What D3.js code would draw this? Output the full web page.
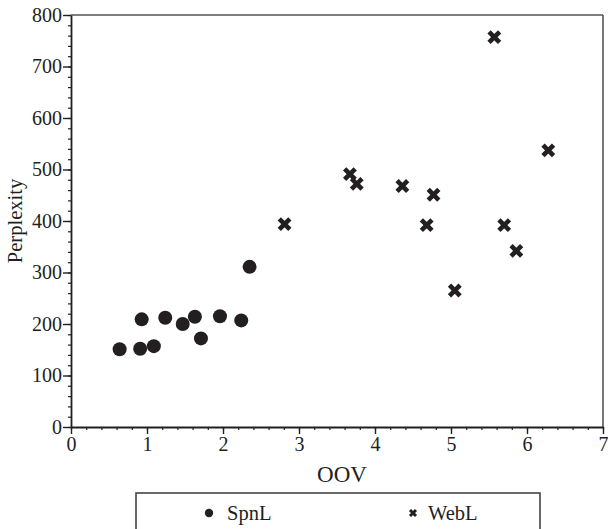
<!DOCTYPE html>
<html>
<head>
<meta charset="utf-8">
<script src="https://cdn.jsdelivr.net/npm/d3@7"></script>
<style>
  html, body { margin: 0; padding: 0; background: #fff; }
  svg { display: block; }
  text { font-family: "Liberation Serif", "Times New Roman", serif; fill: #231f20; }
</style>
</head>
<body>
<svg id="chart" width="608" height="529"></svg>
<script>
// ---- data ----
const spnlOOV = [0.64, 0.91, 0.93, 1.09, 1.24, 1.47, 1.63, 1.71, 1.96, 2.24, 2.35];
const spnlPerplexity = [151, 152, 209, 157, 212, 200, 214, 172, 215, 207, 311];
const weblOOV = [2.81, 3.67, 3.76, 4.36, 4.68, 4.77, 5.05, 5.57, 5.70, 5.86, 6.28];
const weblPerplexity = [394, 491, 472, 468, 392, 451, 265, 757, 392, 342, 537];
const xTicks = [0, 1, 2, 3, 4, 5, 6, 7];
const yTicks = [0, 100, 200, 300, 400, 500, 600, 700, 800];
const seriesNames = ["SpnL", "WebL"];

const ink = "#231f20";
const svg = d3.select("#chart");
const x = d3.scaleLinear().domain([0, 7]).range([71, 603]);
const y = d3.scaleLinear().domain([0, 800]).range([427, 15]);

// frame (top & right)
svg.append("line").attr("x1", x(0)).attr("x2", x(7)).attr("y1", y(800)).attr("y2", y(800))
  .attr("stroke", "#555").attr("stroke-width", 1.6);
svg.append("line").attr("x1", x(7)).attr("x2", x(7)).attr("y1", y(800)).attr("y2", y(0))
  .attr("stroke", "#555").attr("stroke-width", 1.6);

// minor ticks
const xMinor = d3.range(0, 7.0001, 0.2);
const yMinor = d3.range(0, 800.001, 20);
svg.append("g").attr("transform", `translate(0,${y(0)})`)
  .call(d3.axisBottom(x).tickValues(xMinor).tickSize(3).tickFormat(""))
  .call(g => g.select(".domain").remove())
  .call(g => g.selectAll("line").attr("stroke", ink).attr("stroke-width", 1.2));
svg.append("g").attr("transform", `translate(${x(0)},0)`)
  .call(d3.axisLeft(y).tickValues(yMinor).tickSize(3).tickFormat(""))
  .call(g => g.select(".domain").remove())
  .call(g => g.selectAll("line").attr("stroke", ink).attr("stroke-width", 1.2));

// major axes
const xAxis = svg.append("g").attr("transform", `translate(0,${y(0)})`)
  .call(d3.axisBottom(x).tickValues(xTicks).tickSize(7).tickSizeOuter(0).tickPadding(3).tickFormat(d3.format("d")));
const yAxis = svg.append("g").attr("transform", `translate(${x(0)},0)`)
  .call(d3.axisLeft(y).tickValues(yTicks).tickSize(8).tickSizeOuter(0).tickPadding(1).tickFormat(d3.format("d")));
[xAxis, yAxis].forEach(g => {
  g.select(".domain").attr("stroke", ink).attr("stroke-width", 1.8);
  g.selectAll(".tick line").attr("stroke", ink).attr("stroke-width", 1.4);
  g.selectAll(".tick text").attr("font-size", 20).attr("font-family", "Liberation Serif, serif").attr("fill", ink);
});

// axis titles
svg.append("text").attr("x", 342).attr("y", 482).attr("text-anchor", "middle")
  .attr("font-size", 23).text("OOV");
svg.append("text").attr("transform", "translate(22,221) rotate(-90)").attr("text-anchor", "middle")
  .attr("font-size", 20.5).text("Perplexity");

// marks
const crossPath = s => `M${-s},${-s}L${s},${s}M${-s},${s}L${s},${-s}`;
svg.append("g").selectAll("circle").data(spnlOOV.map((v, i) => [v, spnlPerplexity[i]]))
  .join("circle").attr("cx", d => x(d[0])).attr("cy", d => y(d[1])).attr("r", 7).attr("fill", ink);
svg.append("g").selectAll("path").data(weblOOV.map((v, i) => [v, weblPerplexity[i]]))
  .join("path").attr("transform", d => `translate(${x(d[0])},${y(d[1])})`)
  .attr("d", crossPath(5.3)).attr("stroke", ink).attr("stroke-width", 4.6).attr("fill", "none");

// legend
const lg = svg.append("g");
lg.append("rect").attr("x", 136).attr("y", 493).attr("width", 404).attr("height", 60)
  .attr("fill", "none").attr("stroke", "#444").attr("stroke-width", 1.6);
lg.append("circle").attr("cx", 209).attr("cy", 513).attr("r", 4.2).attr("fill", ink);
lg.append("text").attr("x", 227).attr("y", 520).attr("font-size", 20.5).text(seriesNames[0]);
lg.append("path").attr("transform", "translate(413,513)").attr("d", crossPath(3))
  .attr("stroke", ink).attr("stroke-width", 3);
lg.append("text").attr("x", 428).attr("y", 520).attr("font-size", 20.5).text(seriesNames[1]);
</script>
</body>
</html>
